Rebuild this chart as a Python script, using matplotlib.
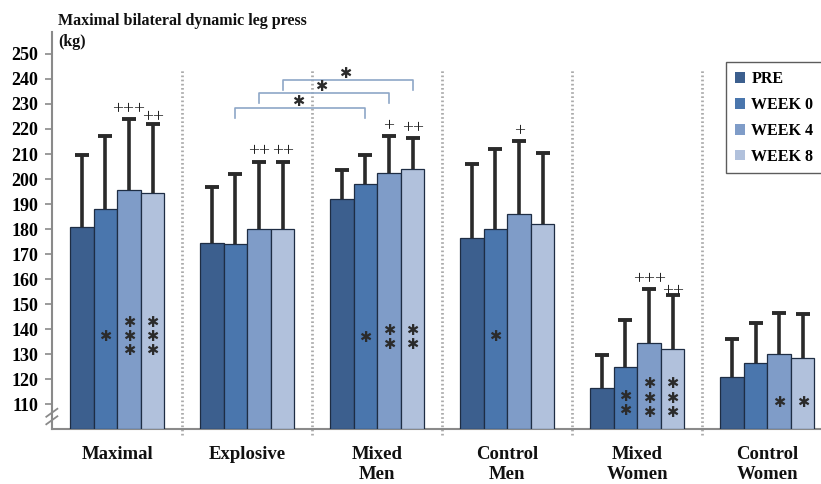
import numpy as np
import matplotlib
matplotlib.use("Agg")
import matplotlib.pyplot as plt
from matplotlib.patches import Patch

groups = ["Maximal", "Explosive", "Mixed\nMen", "Control\nMen", "Mixed\nWomen", "Control\nWomen"]
series = ["PRE", "WEEK 0", "WEEK 4", "WEEK 8"]

means = {
    "PRE":    [181.0, 174.5, 192.0, 176.5, 116.5, 121.0],
    "WEEK 0": [188.0, 174.0, 198.0, 180.0, 125.0, 126.5],
    "WEEK 4": [195.5, 180.0, 202.5, 186.0, 134.5, 130.0],
    "WEEK 8": [194.5, 180.0, 204.0, 182.0, 132.0, 128.5],
}
sd_upper = {
    "PRE":    [28.5, 22.5, 11.5, 29.5, 13.0, 15.0],
    "WEEK 0": [29.0, 28.0, 11.5, 32.0, 18.5, 16.0],
    "WEEK 4": [28.5, 27.0, 14.5, 29.0, 21.5, 16.5],
    "WEEK 8": [27.5, 27.0, 12.5, 28.5, 21.5, 17.5],
}
# within-group change vs PRE (plus signs above bars)
plus_marks = {
    (0, "WEEK 4"): "+++", (0, "WEEK 8"): "++",
    (1, "WEEK 4"): "++",  (1, "WEEK 8"): "++",
    (2, "WEEK 4"): "+",   (2, "WEEK 8"): "++",
    (3, "WEEK 4"): "+",
    (4, "WEEK 4"): "+++", (4, "WEEK 8"): "++",
}
# number of asterisks drawn inside bars
star_counts = {
    (0, "WEEK 0"): 1, (0, "WEEK 4"): 3, (0, "WEEK 8"): 3,
    (2, "WEEK 0"): 1, (2, "WEEK 4"): 2, (2, "WEEK 8"): 2,
    (3, "WEEK 0"): 1,
    (4, "WEEK 0"): 2, (4, "WEEK 4"): 3, (4, "WEEK 8"): 3,
    (5, "WEEK 4"): 1, (5, "WEEK 8"): 1,
}
# between-group comparisons: (group a, group b, series)
brackets = [(1, 2, "WEEK 0"), (1, 2, "WEEK 4"), (1, 2, "WEEK 8")]

colors = {"PRE": "#3c5f8e", "WEEK 0": "#4a76ad", "WEEK 4": "#7f9cc8", "WEEK 8": "#b1c1dc"}
serif = ["Liberation Serif", "DejaVu Serif"]
STAR = "\u2731"

fig = plt.figure(figsize=(8.21, 4.84), dpi=100)
ax = fig.add_axes([0.0633, 0.1136, 0.9367, 0.8203])

w = 0.1815
x = np.arange(len(groups))
offsets = {s: (i - 1.5) * w for i, s in enumerate(series)}

for s in series:
    xs = x + offsets[s]
    m = np.array(means[s])
    top = m + np.array(sd_upper[s])
    ax.bar(xs, m - 100, bottom=100, width=w,
           color=colors[s], edgecolor="#1e2d44", linewidth=0.9, zorder=3)
    # upper-only error bars with a cap
    ax.vlines(xs, m, top, color="#2a2a2a", lw=2.6, zorder=4)
    ax.plot(xs, top, linestyle="none", marker="_", markersize=10,
            markeredgewidth=2.8, color="#2a2a2a", zorder=4)

# plus signs above error bars (vertical gap tweaked where neighbours crowd)
plus_gap = {(0, "WEEK 8"): 3.2, (4, "WEEK 8"): 2.2}
for (g, s), txt in plus_marks.items():
    top = means[s][g] + sd_upper[s][g]
    gap = plus_gap.get((g, s), 4.6)
    ax.text(g + offsets[s], top + gap, txt, ha="center", va="center_baseline",
            fontsize=14, family=serif, color="#222222", zorder=5)

# asterisks inside bars, stacked in one text per bar
star_center = {0: 137.0, 2: 136.6, 3: 137.0, 4: 112.4, 5: 110.8}
for (g, s), n in star_counts.items():
    yc = star_center[g] if not (g == 4 and n == 2) else 110.2
    ax.text(g + offsets[s], yc, "\n".join([STAR] * n), ha="center",
            va="center", fontsize=10.5, family=["DejaVu Sans"],
            linespacing=0.95, color="#2b2b2b", zorder=5)

# bracket comparisons between groups
bracket_levels = [228.4, 234.4, 239.6]
for (a, b, s), lvl in zip(brackets, bracket_levels):
    xa, xb = a + offsets[s], b + offsets[s]
    ax.plot([xa, xa, xb, xb], [lvl - 4, lvl, lvl, lvl - 4],
            color="#8ea7c7", lw=1.2, zorder=2, clip_on=False)
    ax.text((xa + xb) / 2 - 0.02, lvl + 2.6, STAR, ha="center", va="center",
            fontsize=10.5, family=["DejaVu Sans"], color="#2b2b2b", zorder=5)

# dotted separators between groups
for sep in x[:-1] + 0.5:
    ax.plot([sep, sep], [97.6, 243.7], color="#ababab", lw=2.0,
            linestyle=(0, (0.6, 0.9)), zorder=1, clip_on=False)

ax.set_xlim(-0.5015, 5.413)
ax.set_ylim(100, 258.8)
ax.set_yticks(np.arange(110, 251, 10))
ax.set_yticklabels([str(v) for v in range(110, 251, 10)], family=serif,
                   fontweight="bold", fontsize=13)
ax.tick_params(axis="y", direction="out", length=5, width=1.2, color="#8a8a8a", pad=5)
ax.set_xticks([])
for sp in ["top", "right"]:
    ax.spines[sp].set_visible(False)
for sp in ["left", "bottom"]:
    ax.spines[sp].set_color("#8a8a8a")
    ax.spines[sp].set_linewidth(1.5)

# axis break marks on the y axis
for yb in (103.5, 106.5):
    ax.plot([-0.545, -0.46], [yb - 1.6, yb + 1.6], color="#8a8a8a", lw=1.3,
            clip_on=False, zorder=6)

for gi, name in enumerate(groups):
    ax.text(gi, 93.4, name, ha="center", va="top", family=serif,
            fontweight="bold", fontsize=13.5, linespacing=1.28, color="#111111")

fig.text(0.0706, 0.935, "Maximal bilateral dynamic leg press\n(kg)", ha="left",
         va="center", family=serif, fontweight="bold", fontsize=11.5,
         linespacing=1.45, color="#111111")

handles = [Patch(facecolor=colors[s], edgecolor="none") for s in series]
leg = ax.legend(handles, series, loc="upper right", bbox_to_anchor=(1.012, 0.944),
                prop={"family": serif, "weight": "bold", "size": 11.5},
                frameon=True, fancybox=False, edgecolor="#333333",
                handlelength=0.65, handleheight=0.65, handletextpad=0.4,
                labelspacing=0.62, borderpad=0.55)
leg.get_frame().set_linewidth(1.0)

fig.savefig("out.png", dpi=100)
